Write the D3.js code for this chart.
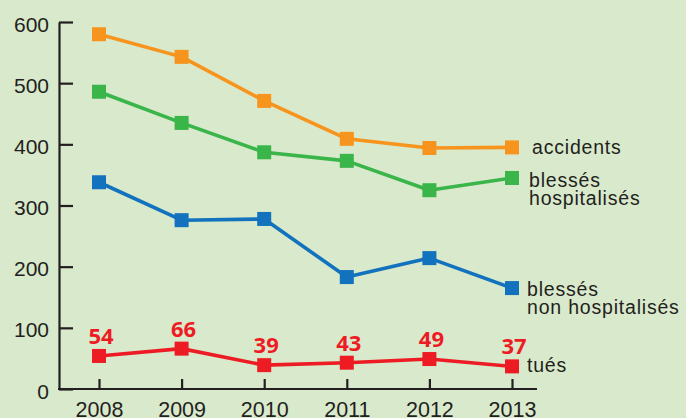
<!DOCTYPE html>
<html><head><meta charset="utf-8">
<script src="https://cdn.jsdelivr.net/npm/d3@7"></script>
<style>
html,body{margin:0;padding:0;background:#d9e9cb;}
svg{display:block;}
</style></head>
<body>
<script>
const years = [2008, 2009, 2010, 2011, 2012, 2013];
const accidents = [580, 543, 471, 409, 394, 395];
const blessesHosp = [486, 435, 387, 373, 325, 345];
const blessesNonHosp = [338, 276, 278, 183, 214, 165];
const tues = [54, 66, 39, 43, 49, 37];
const yTicks = [0, 100, 200, 300, 400, 500, 600];

const series = [
  {name: "accidents", lines: ["accidents"], values: accidents, color: "#f7941d", lx: 532, ly: 154},
  {name: "blessés hospitalisés", lines: ["blessés", "hospitalisés"], values: blessesHosp, color: "#39b54a", lx: 529, ly: 187},
  {name: "blessés non hospitalisés", lines: ["blessés", "non hospitalisés"], values: blessesNonHosp, color: "#1272bd", lx: 527, ly: 296},
  {name: "tués", lines: ["tués"], values: tues, color: "#ed1c24", lx: 527, ly: 372, labels: true}
];

const W = 686, H = 418;
const svg = d3.select("body").append("svg").attr("width", W).attr("height", H);
svg.append("rect").attr("width", W).attr("height", H).attr("fill", "#d9e9cb");

const x = d3.scaleLinear().domain([2008, 2013]).range([99, 512]);
const y = d3.scaleLinear().domain([0, 600]).range([389, 22]);
const axisX0 = 59;
const ink = "#231f20";

// y axis
const gy = svg.append("g").attr("transform", `translate(${axisX0},0)`)
  .call(d3.axisLeft(y).tickValues(yTicks).tickSizeInner(-14).tickSizeOuter(0).tickPadding(10).tickFormat(d3.format("d")));
gy.select(".domain").attr("stroke", ink).attr("stroke-width", 2.2);
gy.selectAll(".tick line").attr("stroke", ink).attr("stroke-width", 2.2);
gy.selectAll(".tick text").attr("fill", ink).attr("dy", null).attr("y", 9)
  .style("font-family", "'Liberation Sans', Arial, sans-serif").style("font-size", "21px");

// x axis
const gx = svg.append("g").attr("transform", `translate(0,${y(0)})`)
  .call(d3.axisBottom(x).tickValues(years).tickSizeInner(-10).tickSizeOuter(0).tickFormat(d3.format("d")));
gx.select(".domain").remove();
gx.append("line").attr("x1", axisX0 - 1).attr("x2", 537).attr("stroke", ink).attr("stroke-width", 2.2);
gx.selectAll(".tick line").attr("stroke", ink).attr("stroke-width", 2.2);
gx.selectAll(".tick text").attr("fill", ink).attr("dy", null).attr("y", 28)
  .style("font-family", "'Liberation Sans', Arial, sans-serif").style("font-size", "21.5px");

const line = d3.line().x((d, i) => x(years[i])).y(d => y(d));
const ms = 14;

series.forEach(s => {
  const g = svg.append("g");
  g.append("path").datum(s.values).attr("d", line)
    .attr("fill", "none").attr("stroke", s.color).attr("stroke-width", 3.6).attr("stroke-linejoin", "round");
  g.selectAll("rect").data(s.values).join("rect")
    .attr("x", (d, i) => x(years[i]) - ms / 2).attr("y", d => y(d) - ms / 2)
    .attr("width", ms).attr("height", ms).attr("fill", s.color);
  if (s.labels) {
    g.selectAll("text.val").data(s.values).join("text").attr("class", "val")
      .attr("x", (d, i) => x(years[i]) + 2).attr("y", d => y(d) - 12)
      .attr("text-anchor", "middle").attr("fill", s.color)
      .style("font-family", "'Open Sans', sans-serif").style("font-weight", "bold").style("font-size", "22px")
      .text(d => d);
  }
  s.lines.forEach((l, i) => {
    svg.append("text").attr("x", s.lx).attr("y", s.ly + i * 18).attr("fill", ink)
      .style("font-family", "'Liberation Sans', Arial, sans-serif").style("font-size", "19.5px")
      .style("letter-spacing", "0.8px").text(l);
  });
});
</script>
</body></html>
